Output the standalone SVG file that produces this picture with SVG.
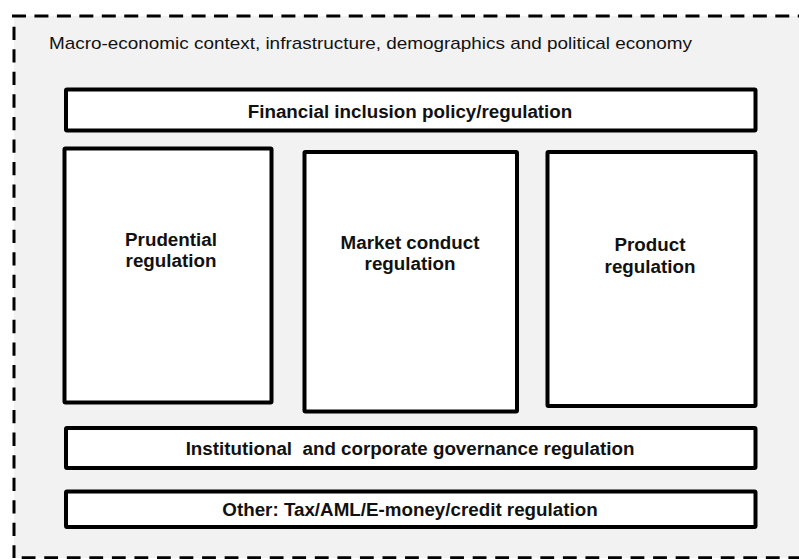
<svg xmlns="http://www.w3.org/2000/svg" width="799" height="559" viewBox="0 0 799 559">
  <style>
    .frame { stroke: #000; stroke-width: 3; fill: none; }
    .box { fill: #fff; stroke: #000; stroke-width: 4; }
    .ctx { font-family: "Liberation Sans", Arial, sans-serif; font-size: 17px; fill: #111; }
    .lbl { font-family: "Liberation Sans", Arial, sans-serif; font-size: 18.8px; font-weight: bold; fill: #111; text-anchor: middle; white-space: pre; }
  </style>
  <rect width="799" height="559" fill="#fff"/>

  <!-- context frame -->
  <g id="context">
    <rect x="14" y="16" width="786" height="542" fill="#f2f2f2"/>
    <path class="frame" d="M12 16 H800" stroke-dasharray="14 8.45"/>
    <path class="frame" d="M14 26.7 V558" stroke-dasharray="13.3 9.25"/>
    <path class="frame" d="M21.7 557.8 H800" stroke-dasharray="13.8 8.75"/>
    <text class="ctx" x="49" y="48.5" textLength="643" lengthAdjust="spacingAndGlyphs">Macro-economic context, infrastructure, demographics and political economy</text>
  </g>

  <g id="financial-inclusion">
    <rect class="box" x="66" y="89.5" width="689.5" height="41" rx="1"/>
    <text class="lbl" x="410" y="117.5">Financial inclusion policy/regulation</text>
  </g>

  <g id="prudential">
    <rect class="box" x="64.5" y="148.5" width="207" height="254" rx="1"/>
    <text class="lbl" x="171" y="245.5">Prudential</text>
    <text class="lbl" x="171" y="267">regulation</text>
  </g>

  <g id="market-conduct">
    <rect class="box" x="304.5" y="152" width="212.5" height="259.5" rx="1"/>
    <text class="lbl" x="410" y="248.5">Market conduct</text>
    <text class="lbl" x="410" y="270">regulation</text>
  </g>

  <g id="product">
    <rect class="box" x="547.5" y="152" width="208" height="254" rx="1"/>
    <text class="lbl" x="650" y="250.5">Product</text>
    <text class="lbl" x="650" y="272.5">regulation</text>
  </g>

  <g id="governance">
    <rect class="box" x="66" y="428" width="689.5" height="40" rx="1"/>
    <text class="lbl" x="410" y="454.5">Institutional  and corporate governance regulation</text>
  </g>

  <g id="other">
    <rect class="box" x="66" y="491.5" width="689.5" height="35.5" rx="1"/>
    <text class="lbl" x="410" y="515.5">Other: Tax/AML/E-money/credit regulation</text>
  </g>

  <g id="connectors"/>
</svg>
